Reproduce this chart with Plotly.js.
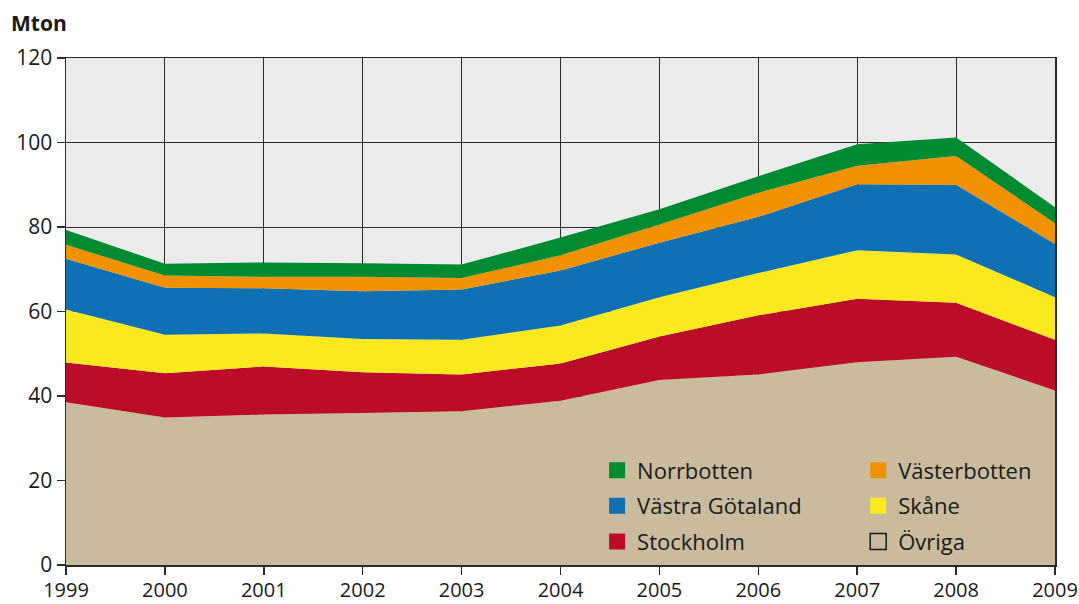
<!DOCTYPE html>
<html>
<head>
<meta charset="utf-8">
<script src="https://cdn.plot.ly/plotly-3.0.1.min.js"></script>
<style>html,body{margin:0;padding:0;background:#fff;}#chart{width:1079px;height:604px;}</style>
</head>
<body>
<div id="chart"></div>
<script>
const years = [1999, 2000, 2001, 2002, 2003, 2004, 2005, 2006, 2007, 2008, 2009];
const ovriga       = [38.5, 34.9, 35.6, 36.0, 36.4, 38.9, 43.8, 45.1, 48.0, 49.3, 41.3];
const stockholm    = [9.4, 10.5, 11.4, 9.6, 8.7, 8.8, 10.3, 14.0, 15.0, 12.8, 12.0];
const skane        = [12.6, 9.1, 7.8, 7.9, 8.2, 9.0, 9.3, 10.0, 11.5, 11.4, 10.1];
const vastraGotaland = [12.0, 11.1, 10.7, 11.3, 11.9, 13.0, 12.9, 13.3, 15.6, 16.5, 12.6];
const vasterbotten = [3.3, 2.9, 2.7, 3.4, 2.7, 3.6, 4.3, 5.7, 4.4, 6.8, 4.9];
const norrbotten   = [3.5, 2.8, 3.4, 3.2, 3.2, 4.2, 3.6, 3.9, 5.1, 4.4, 3.8];
const yTicks = [0, 20, 40, 60, 80, 100, 120];

const series = [
  {name: 'Övriga', y: ovriga, color: '#c9bb9c', legend: 'legend2', rank: 3, outline: true},
  {name: 'Stockholm', y: stockholm, color: '#bb0d2a', legend: 'legend', rank: 3},
  {name: 'Skåne', y: skane, color: '#fbe920', legend: 'legend2', rank: 2},
  {name: 'Västra Götaland', y: vastraGotaland, color: '#0f70b3', legend: 'legend', rank: 2},
  {name: 'Västerbotten', y: vasterbotten, color: '#f09200', legend: 'legend2', rank: 1},
  {name: 'Norrbotten', y: norrbotten, color: '#008a32', legend: 'legend', rank: 1}
];

const traces = [];
series.forEach(s => {
  traces.push({
    x: years, y: s.y, type: 'scatter', mode: 'none', stackgroup: 'one',
    fillcolor: s.color, name: s.name, showlegend: false, hoverinfo: 'skip'
  });
});
series.forEach(s => {
  traces.push({
    x: [null], y: [null], type: 'scatter', mode: 'markers', name: s.name,
    legend: s.legend, legendrank: s.rank, legendgroup: s.name,
    marker: s.outline
      ? {symbol: 'square', size: 16, color: 'rgba(0,0,0,0)', line: {color: '#1a1a1a', width: 1.5}}
      : {symbol: 'square', size: 16, color: s.color, line: {width: 0}}
  });
});

const family = 'Open Sans, Noto Sans, sans-serif';
const yFont = {family: family, size: 21, color: '#1a1a1a'};
const xFont = {family: family, size: 20, color: '#1a1a1a'};
const legendBase = {
  orientation: 'v', yanchor: 'top', xanchor: 'left', y: 0.228,
  bgcolor: 'rgba(0,0,0,0)', borderwidth: 0, tracegroupgap: 4,
  font: {family: family, size: 22, color: '#1a1a1a'}, itemsizing: 'trace'
};

const layout = {
  width: 1079, height: 604,
  margin: {l: 66, r: 24, t: 58, b: 39},
  paper_bgcolor: '#ffffff', plot_bgcolor: '#ebebeb',
  font: yFont,
  title: {text: '<b>Mton</b>', x: 0.0102, xanchor: 'left', xref: 'container',
          y: 1 - 23.5 / 604, yanchor: 'middle', yref: 'container',
          font: {family: family, size: 21, color: '#1a1a1a'}},
  xaxis: {
    range: [1999, 2009], tickvals: years, ticktext: years.map(String),
    showgrid: true, gridcolor: '#2a2a2a', gridwidth: 1,
    showline: true, linecolor: '#2a2a2a', linewidth: 1.5, mirror: true,
    ticks: 'outside', ticklen: 8, tickcolor: '#2a2a2a', tickwidth: 1.5,
    ticklabelstandoff: -2, ticklabeloverflow: 'allow',
    zeroline: false, fixedrange: true, tickfont: xFont
  },
  yaxis: {
    range: [0, 120], tickvals: yTicks,
    showgrid: true, gridcolor: '#2a2a2a', gridwidth: 1,
    showline: true, linecolor: '#2a2a2a', linewidth: 1.5, mirror: true,
    ticks: 'outside', ticklen: 8, tickcolor: '#2a2a2a', tickwidth: 1.5,
    zeroline: false, fixedrange: true, tickfont: yFont
  },
  legend: Object.assign({}, legendBase, {x: 0.537}),
  legend2: Object.assign({}, legendBase, {x: 0.801}),
  showlegend: true
};

Plotly.newPlot('chart', traces, layout, {staticPlot: true, displayModeBar: false});
</script>
</body>
</html>
